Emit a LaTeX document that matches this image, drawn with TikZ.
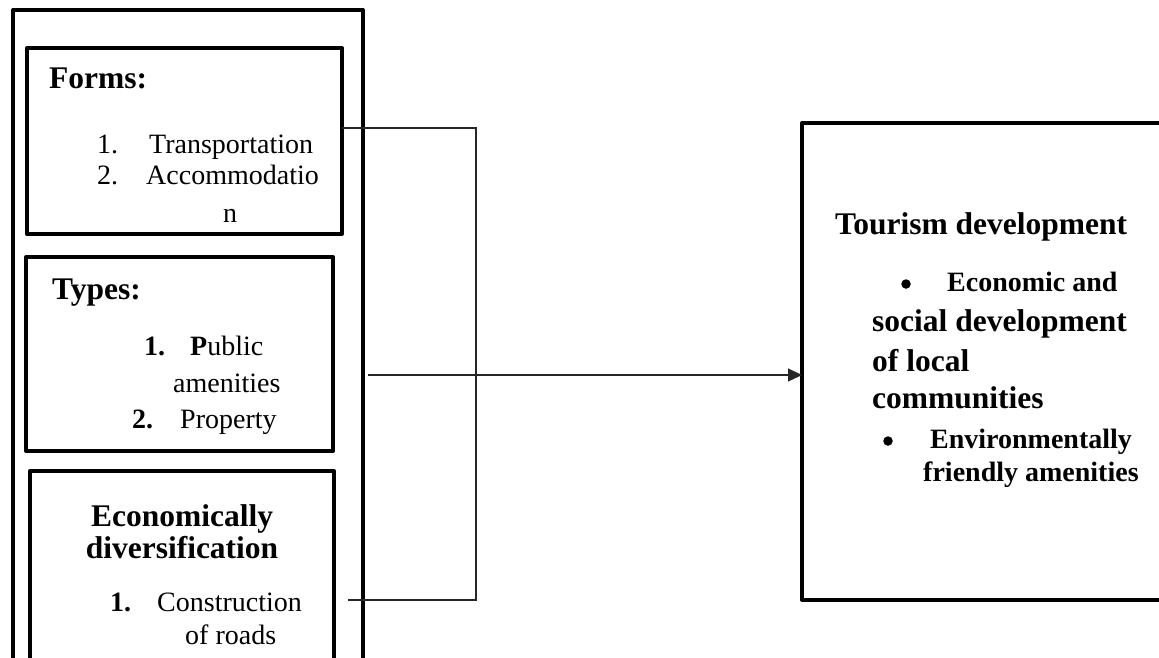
\documentclass[tikz,border=0pt]{standalone}
\usepackage{fontspec}
\setmainfont{Liberation Serif}
\usetikzlibrary{arrows.meta}
\newcommand\fbig{\fontsize{31.5}{36}\selectfont\bfseries}
\newcommand\fsm{\fontsize{28}{32}\selectfont}
\newcommand\fsmb{\fontsize{28}{32}\selectfont\bfseries}
\tikzset{
  box/.style={draw, line width=4pt, line join=round, rectangle, inner sep=0pt, outer sep=0pt, anchor=north west},
  txt/.style={inner sep=0pt, anchor=base west},
  ctxt/.style={inner sep=0pt, anchor=base},
  conn/.style={line width=1.2pt, draw=black!85},
  dotb/.style={circle, fill=black, inner sep=0pt, minimum size=9.5pt}
}
\begin{document}
\begin{tikzpicture}[x=1pt,y=-1pt]
\useasboundingbox (0,0) rectangle (1159,657);
\clip (0,0) rectangle (1159,657);
% boxes
\node[box, minimum width=350pt, minimum height=720pt] (outer) at (13,10) {};
\node[box, minimum width=315pt, minimum height=186pt] (forms) at (27,48) {};
\node[box, minimum width=307pt, minimum height=194pt] (types) at (26,257) {};
\node[box, minimum width=304pt, minimum height=260pt] (econ) at (30,471) {};
\node[box, minimum width=420pt, minimum height=477pt] (tour) at (802,123) {};
% Forms
\node[txt, font=\fbig] (fh) at (49,88) {Forms:};
\node[txt, font=\fsm] (f1n) at (97,153) {1.};
\node[txt, font=\fsm] (f1) at (149,153) {Transportation};
\node[txt, font=\fsm] (f2n) at (97,184) {2.};
\node[txt, font=\fsm] (f2) at (146,184) {Accommodatio};
\node[txt, font=\fsm] (f2b) at (223,222) {n};
% Types
\node[txt, font=\fbig] (th) at (52,299) {Types:};
\node[txt, font=\fsmb] (t1n) at (144,355) {1.};
\node[txt, font=\fsm] (t1) at (190,355) {\textbf{P}ublic};
\node[txt, font=\fsm] (t1b) at (173,392) {amenities};
\node[txt, font=\fsmb] (t2n) at (132,428) {2.};
\node[txt, font=\fsm] (t2) at (180,428) {Property};
% Econ
\node[ctxt, font=\fbig] (eh1) at (182,526) {Economically};
\node[ctxt, font=\fbig] (eh2) at (182,558) {diversification};
\node[txt, font=\fsmb] (e1n) at (110,611) {1.};
\node[txt, font=\fsm] (e1) at (157,611) {Construction};
\node[txt, font=\fsm] (e1b) at (185,644) {of roads};
% Tourism
\node[txt, font=\fbig] (rh) at (835,234) {Tourism development};
\node[dotb] (b1) at (906,284) {};
\node[txt, font=\fsmb] (r1) at (947,291) {Economic and};
\node[txt, font=\fbig] (r1b) at (872,331) {social development};
\node[txt, font=\fbig] (r1c) at (872,371) {of local};
\node[txt, font=\fbig] (r1d) at (872,408) {communities};
\node[dotb] (b2) at (888,441) {};
\node[txt, font=\fsmb] (r2) at (930,448) {Environmentally};
\node[txt, font=\fsmb] (r2b) at (923,481) {friendly amenities};
% connectors
\coordinate (jt) at (476,128);
\coordinate (jb) at (476,600);
\coordinate (eb) at (348,600);
\coordinate (ma) at (368,375);
\draw[conn] (forms.east |- jt) -- (jt) -- (jb) -- (eb);
\draw[conn, -{Triangle[length=14pt,width=13pt]}] (ma) -- (tour.west |- ma);
\end{tikzpicture}
\end{document}
